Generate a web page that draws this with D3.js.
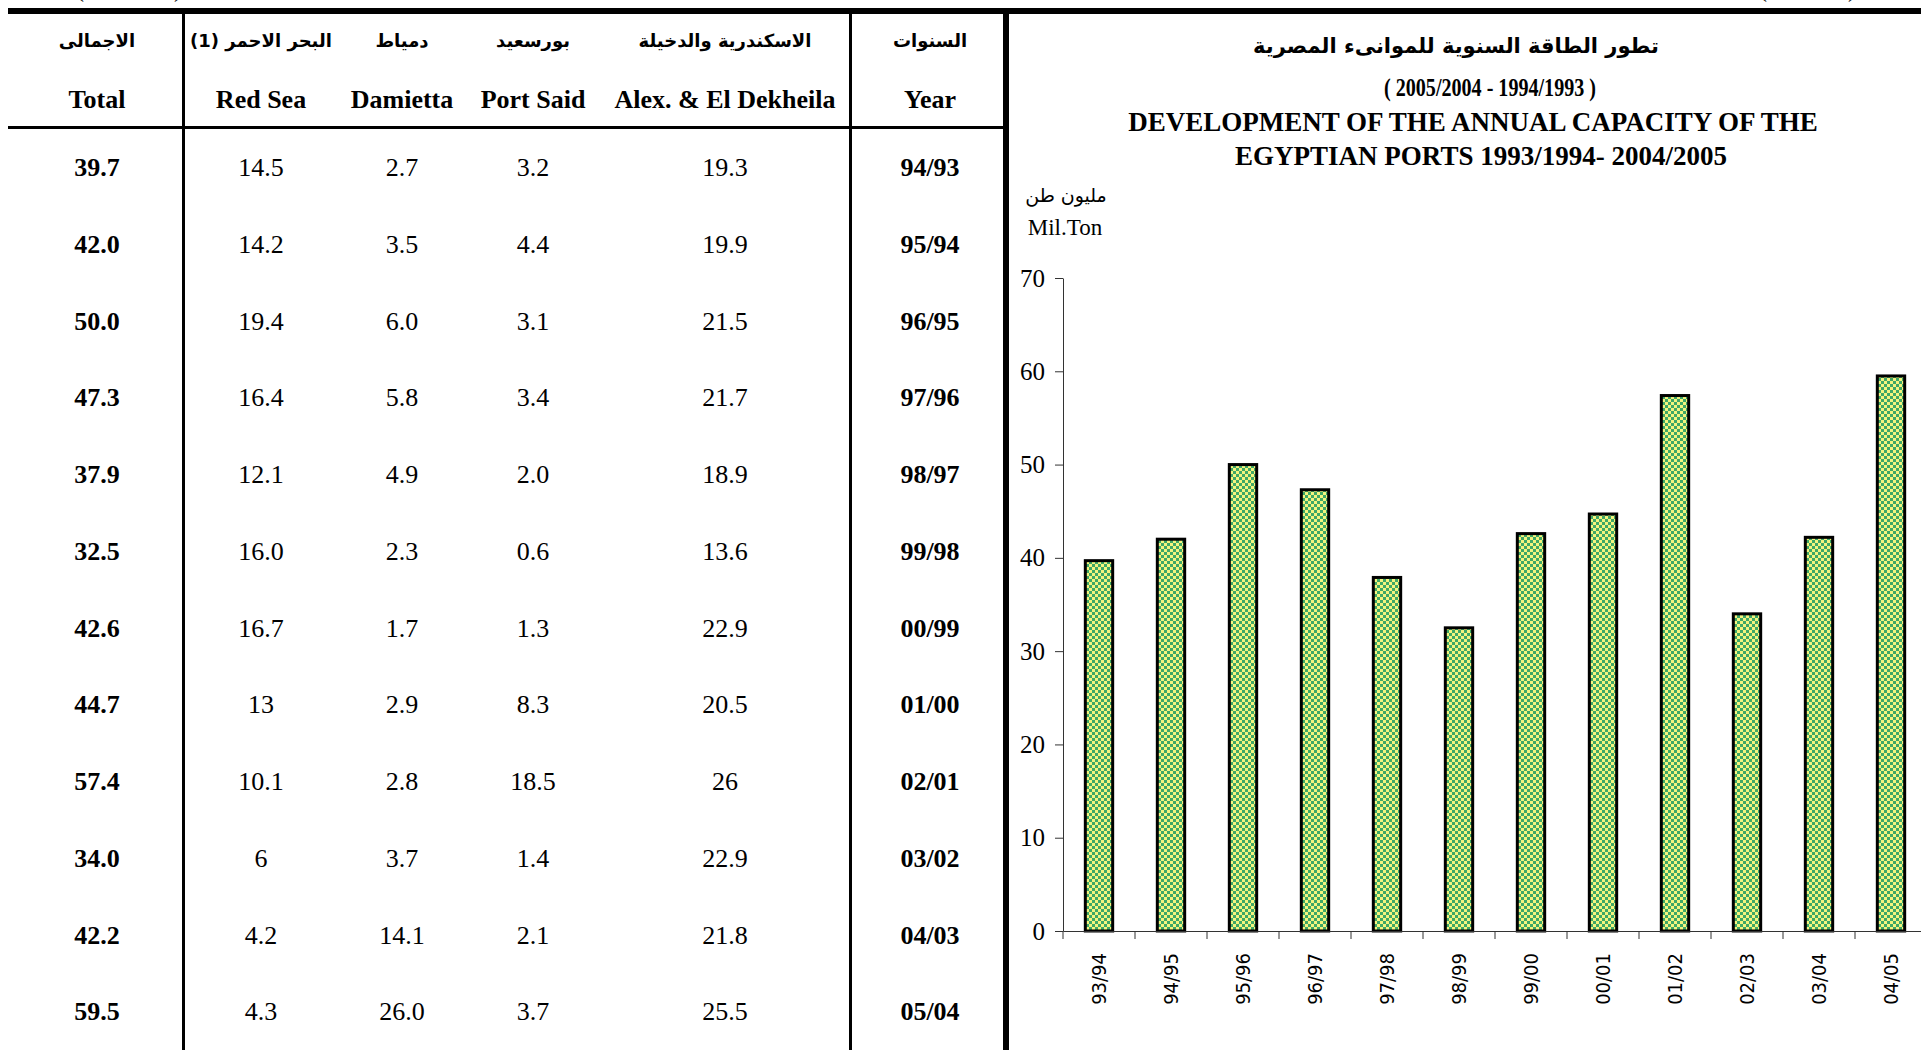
<!DOCTYPE html>
<html>
<head>
<meta charset="utf-8">
<script src="https://d3js.org/d3.v7.min.js"></script>
<style>
body { margin: 0; background: #fff; }
svg { display: block; }
.ser { font-family: "Liberation Serif", "Times New Roman", serif; }
.ar { font-family: "DejaVu Sans", sans-serif; }
</style>
</head>
<body>
<svg width="1921" height="1050"></svg>
<script>

// table columns
var yearsTable = ["94/93","95/94","96/95","97/96","98/97","99/98","00/99","01/00","02/01","03/02","04/03","05/04"];
var alex = ["19.3","19.9","21.5","21.7","18.9","13.6","22.9","20.5","26","22.9","21.8","25.5"];
var portSaid = ["3.2","4.4","3.1","3.4","2.0","0.6","1.3","8.3","18.5","1.4","2.1","3.7"];
var damietta = ["2.7","3.5","6.0","5.8","4.9","2.3","1.7","2.9","2.8","3.7","14.1","26.0"];
var redSea = ["14.5","14.2","19.4","16.4","12.1","16.0","16.7","13","10.1","6","4.2","4.3"];
var totals = [39.7, 42.0, 50.0, 47.3, 37.9, 32.5, 42.6, 44.7, 57.4, 34.0, 42.2, 59.5];

var headAr = ["الاجمالى", "(1) البحر الاحمر", "دمياط", "بورسعيد", "الاسكندرية والدخيلة", "السنوات"];
var headEn = ["Total", "Red Sea", "Damietta", "Port Said", "Alex. & El Dekheila", "Year"];

// chart
var categories = ["93/94","94/95","95/96","96/97","97/98","98/99","99/00","00/01","01/02","02/03","03/04","04/05"];
var yTicks = [0, 10, 20, 30, 40, 50, 60, 70];

var svg = d3.select("svg");

// ---- frame lines
svg.append("rect").attr("x", 8).attr("y", 8).attr("width", 1913).attr("height", 6).attr("fill", "#000");
svg.append("rect").attr("x", 1003).attr("y", 8).attr("width", 6).attr("height", 1042).attr("fill", "#000");
svg.append("rect").attr("x", 8).attr("y", 126).attr("width", 995).attr("height", 3).attr("fill", "#000");
svg.append("rect").attr("x", 182).attr("y", 14).attr("width", 3).attr("height", 1036).attr("fill", "#000");
svg.append("rect").attr("x", 849).attr("y", 14).attr("width", 3).attr("height", 1036).attr("fill", "#000");

// brackets of the line above, cut by the page edge
[[80, "("], [178, ")"], [1763, "("], [1852, ")"]].forEach(function(p) {
    svg.append("text").attr("class", "ser").attr("x", p[0]).attr("y", -3)
        .attr("text-anchor", "middle").style("font-size", "24px").text(p[1]);
});

// ---- table
var colX = [97, 261, 402, 533, 725, 930];
var rowY = d3.scaleBand().domain(yearsTable).range([129, 1050]);

svg.append("g").selectAll("text").data(headAr).enter().append("text")
    .attr("class", "ar")
    .attr("x", function(d, i) { return colX[i]; })
    .attr("y", 47)
    .attr("text-anchor", "middle")
    .style("font-size", "18px")
    .style("font-weight", "bold")
    .text(function(d) { return d; });

svg.append("g").selectAll("text").data(headEn).enter().append("text")
    .attr("class", "ser")
    .attr("x", function(d, i) { return colX[i]; })
    .attr("y", 108)
    .attr("text-anchor", "middle")
    .style("font-size", "26px")
    .style("font-weight", "bold")
    .text(function(d) { return d; });

var cols = [totals.map(function(v) { return v.toFixed(1); }), redSea, damietta, portSaid, alex, yearsTable];
cols.forEach(function(col, c) {
    svg.append("g").selectAll("text").data(col).enter().append("text")
        .attr("class", "ser")
        .attr("x", colX[c])
        .attr("y", function(d, i) { return rowY(yearsTable[i]) + 47; })
        .attr("text-anchor", "middle")
        .style("font-size", "26px")
        .style("font-weight", (c == 0 || c == 5) ? "bold" : "normal")
        .text(function(d) { return d; });
});

// ---- chart titles
svg.append("text").attr("class", "ar").attr("x", 1456).attr("y", 53)
    .attr("text-anchor", "middle").style("font-size", "21px").style("font-weight", "bold")
    .text("تطور الطاقة السنوية للموانىء المصرية");
// narrow face in the original, squeeze to its width
svg.append("text").attr("class", "ser").attr("x", 1490).attr("y", 96)
    .attr("text-anchor", "middle").style("font-size", "26px").style("font-weight", "bold")
    .attr("textLength", 212).attr("lengthAdjust", "spacingAndGlyphs")
    .text("( 2005/2004 - 1994/1993 )");
svg.append("text").attr("class", "ser").attr("x", 1473).attr("y", 131)
    .attr("text-anchor", "middle").style("font-size", "27px").style("font-weight", "bold")
    .text("DEVELOPMENT OF THE ANNUAL CAPACITY OF THE");
svg.append("text").attr("class", "ser").attr("x", 1481).attr("y", 165)
    .attr("text-anchor", "middle").style("font-size", "27px").style("font-weight", "bold")
    .text("EGYPTIAN  PORTS 1993/1994- 2004/2005");

svg.append("text").attr("class", "ar").attr("x", 1066).attr("y", 202)
    .attr("text-anchor", "middle").style("font-size", "19px")
    .text("مليون طن");
svg.append("text").attr("class", "ser").attr("x", 1065).attr("y", 235)
    .attr("text-anchor", "middle").style("font-size", "23px")
    .text("Mil.Ton");

// ---- bars
var defs = svg.append("defs");
var pat = defs.append("pattern").attr("id", "checker")
    .attr("patternUnits", "userSpaceOnUse").attr("width", 6).attr("height", 6);
pat.append("rect").attr("width", 6).attr("height", 6).attr("fill", "#f4f47e");
pat.append("rect").attr("width", 3).attr("height", 3).attr("fill", "#3fa866");
pat.append("rect").attr("x", 3).attr("y", 3).attr("width", 3).attr("height", 3).attr("fill", "#3fa866");

var x0 = 1063;
var x = d3.scaleBand().domain(categories).range([x0, x0 + 72 * categories.length])
    .paddingInner(0.62).paddingOuter(0.31);
var y = d3.scaleLinear().domain([0, 70]).range([931, 278]);

svg.append("g").selectAll("rect").data(totals).enter().append("rect")
    .attr("x", function(d, i) { return x(categories[i]); })
    .attr("y", function(d) { return y(d); })
    .attr("width", x.bandwidth())
    .attr("height", function(d) { return y(0) - y(d); })
    .attr("fill", "url(#checker)")
    .attr("stroke", "#000")
    .attr("stroke-width", 3);

// y axis
var yAxis = svg.append("g")
    .attr("transform", "translate(" + x0 + ",0)")
    .call(d3.axisLeft(y).tickValues(yTicks).tickSize(8).tickSizeOuter(0).tickPadding(10));
yAxis.select(".domain").attr("stroke", "#333");
yAxis.selectAll(".tick line").attr("stroke", "#333");
yAxis.selectAll(".tick text")
    .attr("class", "ser")
    .attr("fill", "#000")
    .style("font-size", "25px");

// x axis: line, boundary ticks, rotated labels
var xAxis = svg.append("g")
    .attr("transform", "translate(0," + y(0) + ")")
    .call(d3.axisBottom(x).tickSize(0).tickSizeOuter(0).tickPadding(22));
xAxis.select(".domain").attr("stroke", "#333");
xAxis.selectAll(".tick text")
    .attr("transform", "rotate(-90)")
    .attr("text-anchor", "end")
    .attr("x", -22)
    .attr("y", 0)
    .attr("dy", "0.35em")
    .attr("fill", "#000")
    .style("font-family", "'DejaVu Sans Condensed', 'DejaVu Sans', sans-serif")
    .style("font-size", "20px");

var edges = categories.map(function(c) { return x(c) - x.step() * x.paddingOuter(); });
edges.push(x0 + x.step() * categories.length);
svg.append("g").selectAll("line").data(edges).enter().append("line")
    .attr("x1", function(d) { return d; })
    .attr("x2", function(d) { return d; })
    .attr("y1", y(0))
    .attr("y2", y(0) + 8)
    .attr("stroke", "#333");

</script>
</body>
</html>
